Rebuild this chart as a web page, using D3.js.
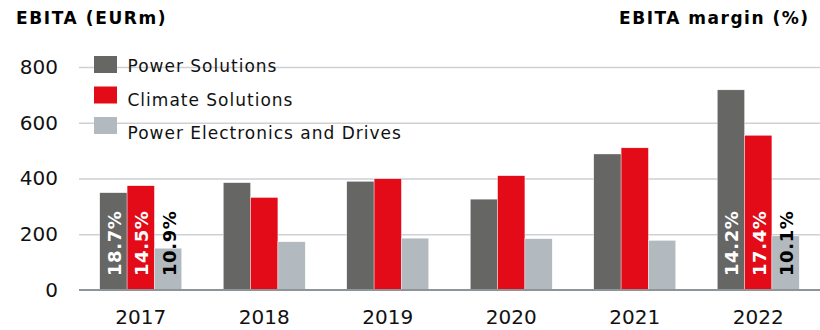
<!DOCTYPE html>
<html>
<head>
<meta charset="utf-8">
<script src="https://cdn.jsdelivr.net/npm/d3@7"></script>
<style>
  html, body { margin: 0; padding: 0; background: #fff; }
  svg { display: block; font-family: "DejaVu Sans", Verdana, sans-serif; }
</style>
</head>
<body>
<svg id="chart" width="820" height="330"></svg>
<script>
// EBITA by business segment, EURm
const years = ["2017", "2018", "2019", "2020", "2021", "2022"];
const seriesNames = ["Power Solutions", "Climate Solutions", "Power Electronics and Drives"];
const powerSolutions = [349, 385, 390, 326, 488, 718];
const climateSolutions = [374, 332, 399, 410, 510, 555];
const powerElectronics = [150, 173, 186, 184, 178, 194];
const yTicks = [0, 200, 400, 600, 800];
// EBITA margin labels, shown for the first and last year only
const marginLabels = [
  { year: "2017", values: ["18.7%", "14.5%", "10.9%"] },
  { year: "2022", values: ["14.2%", "17.4%", "10.1%"] }
];

const colors = ["#666664", "#e30b17", "#b2b9bf"];
const labelColors = ["#ffffff", "#ffffff", "#000000"];
const seriesValues = [powerSolutions, climateSolutions, powerElectronics];

const svg = d3.select("#chart");
const margin = { left: 79, right: 0, top: 67, bottom: 40 };
const W = 820, H = 330;

const x0 = d3.scaleBand().domain(years).range([margin.left, W - margin.right]).padding(0);
const x1 = d3.scaleBand().domain(d3.range(3)).range([0, x0.bandwidth()])
  .paddingInner(0).paddingOuter(0.76);
const y = d3.scaleLinear().domain([0, 800]).range([290, 67]);

// gridlines
const grid = svg.append("g")
  .attr("transform", `translate(${margin.left},0)`)
  .call(d3.axisLeft(y).tickValues(yTicks.filter(d => d > 0)).tickSize(-(W - margin.left)).tickFormat(""));
grid.select(".domain").remove();
grid.selectAll(".tick line").attr("stroke", "#cdd1d5").attr("stroke-width", 1.5);

// y tick labels
const yAxis = svg.append("g")
  .attr("transform", `translate(${margin.left},0)`)
  .call(d3.axisLeft(y).tickValues(yTicks).tickSize(0).tickPadding(21).tickFormat(d3.format("d")));
yAxis.select(".domain").remove();
yAxis.selectAll("text")
  .attr("font-size", 20).attr("fill", "#111").attr("font-family", "DejaVu Sans, Verdana, sans-serif");

// bars
const groups = svg.append("g").selectAll("g")
  .data(years)
  .join("g")
  .attr("transform", d => `translate(${x0(d)},0)`);

groups.selectAll("rect")
  .data((d, i) => seriesValues.map((vals, s) => ({ s, v: vals[i] })))
  .join("rect")
  .attr("x", d => x1(d.s))
  .attr("width", x1.bandwidth())
  .attr("y", d => y(d.v))
  .attr("height", d => y(0) - y(d.v))
  .attr("fill", d => colors[d.s])
  .attr("stroke", "#ffffff")
  .attr("stroke-width", 0.4);

// zero line
svg.append("line")
  .attr("x1", margin.left).attr("x2", W)
  .attr("y1", y(0)).attr("y2", y(0))
  .attr("stroke", "#8f9499").attr("stroke-width", 2);

// x axis labels
const xAxis = svg.append("g")
  .attr("transform", `translate(0,${y(0)})`)
  .call(d3.axisBottom(x0).tickSize(0).tickPadding(20));
xAxis.select(".domain").remove();
xAxis.selectAll("text")
  .attr("font-size", 20).attr("fill", "#111").attr("font-family", "DejaVu Sans, Verdana, sans-serif");

// margin labels inside bars, rotated
marginLabels.forEach(m => {
  m.values.forEach((txt, s) => {
    const cx = x0(m.year) + x1(s) + x1.bandwidth() / 2;
    const by = y(0) - 14;
    svg.append("text")
      .attr("transform", `translate(${cx + 7.5},${by}) rotate(-90)`)
      .attr("text-anchor", "start")
      .attr("font-size", 18)
      .attr("font-weight", "bold")
      .attr("letter-spacing", 0.6)
      .attr("fill", labelColors[s])
      .text(txt);
  });
});

// legend
const legend = svg.append("g").attr("transform", "translate(94,56)");
seriesNames.forEach((name, i) => {
  legend.append("rect").attr("y", i * 30.5).attr("width", 23).attr("height", 17).attr("fill", colors[i]);
  legend.append("text").attr("x", 33.5).attr("y", 15.7 + i * 33.8)
    .attr("font-size", 17).attr("letter-spacing", 1).attr("fill", "#111").text(name);
});

// titles
svg.append("text").attr("x", 16).attr("y", 24)
  .attr("font-size", 17).attr("font-weight", "bold").attr("letter-spacing", 1.6).attr("fill", "#000")
  .text("EBITA (EURm)");
svg.append("text").attr("x", 809.5).attr("y", 24).attr("text-anchor", "end")
  .attr("font-size", 17).attr("font-weight", "bold").attr("letter-spacing", 1.5).attr("fill", "#000")
  .text("EBITA margin (%)");
</script>
</body>
</html>
